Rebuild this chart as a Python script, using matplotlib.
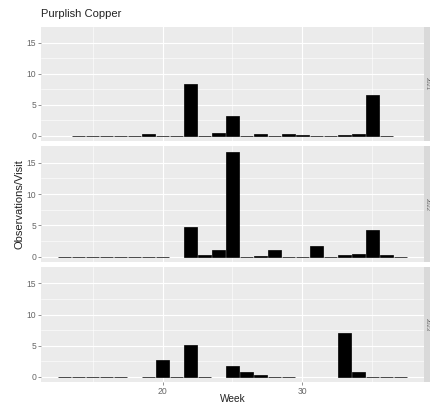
import matplotlib
matplotlib.use("Agg")
import matplotlib.pyplot as plt
from matplotlib.patches import Rectangle

plt.rcParams['font.family'] = ['Liberation Sans', 'DejaVu Sans']

title = "Purplish Copper"
x_label = "Week"
y_label = "Observations/Visit"
strip_labels = ["2021", "2022", "2023"]

weeks_1 = [14, 15, 16, 17, 18, 19, 20, 21, 22, 23, 24, 25, 26, 27, 28, 29, 30, 31, 32, 33, 34, 35, 36]
vals_1 = [0, 0, 0, 0, 0, 0.35, 0, 0, 8.3, 0, 0.55, 3.2, 0, 0.3, 0, 0.4, 0.1, 0, 0, 0.2, 0.3, 6.6, 0]

weeks_2 = [13, 14, 15, 16, 17, 18, 19, 20, 22, 23, 24, 25, 26, 27, 28, 29, 30, 31, 32, 33, 34, 35, 36, 37]
vals_2 = [0, 0, 0, 0, 0, 0, 0, 0, 4.8, 0.2, 1.05, 16.75, 0, 0.05, 1.05, 0, 0, 1.75, 0, 0.25, 0.45, 4.25, 0.3, 0]

weeks_3 = [13, 14, 15, 16, 17, 19, 20, 21, 22, 23, 25, 26, 27, 28, 29, 33, 34, 35, 36, 37]
vals_3 = [0, 0, 0, 0, 0, 0, 2.7, 0, 5.1, 0, 1.7, 0.8, 0.35, 0, 0, 7.0, 0.75, 0, 0, 0]

panels = [(weeks_1, vals_1), (weeks_2, vals_2), (weeks_3, vals_3)]

W, H = 430, 405
fig = plt.figure(figsize=(W / 100, H / 100), dpi=100)

left_px, right_px = 41, 424
tops = [26.6, 146.4, 267.3]
bottoms = [141.2, 262.0, 382.0]

ymax_data = 16.75
ylim = (-0.05 * ymax_data, ymax_data * 1.05)
xlim = (12.55 - 0.05 * 24.9, 37.45 + 0.05 * 24.9)

for i, (wk, vals) in enumerate(panels):
    ax = fig.add_axes([left_px / W, 1 - bottoms[i] / H, (right_px - left_px) / W,
                       (bottoms[i] - tops[i]) / H])
    ax.set_facecolor('#EBEBEB')
    for s in ax.spines.values():
        s.set_visible(False)
    ax.set_xlim(*xlim)
    ax.set_ylim(*ylim)
    ax.set_yticks([0, 5, 10, 15])
    ax.set_yticks([2.5, 7.5, 12.5], minor=True)
    ax.set_xticks([20, 30])
    ax.set_xticks([15, 25, 35], minor=True)
    ax.grid(True, which='major', color='white', linewidth=0.8)
    ax.grid(True, which='minor', color='white', linewidth=0.4)
    ax.set_axisbelow(True)
    ax.tick_params(which='major', length=2, width=0.5, color='#666666',
                   labelsize=6.2, labelcolor='#666666', pad=1.5)
    ax.tick_params(which='minor', length=0)
    if i < 2:
        ax.tick_params(axis='x', labelbottom=False, length=0)
    ax.bar(wk, vals, width=0.9, color='black', edgecolor='black', linewidth=0.5)

    # facet strip on right (cut off by figure edge)
    y0 = 1 - bottoms[i] / H
    hgt = (bottoms[i] - tops[i]) / H
    fig.patches.append(Rectangle((right_px / W, y0), 17 / W, hgt, transform=fig.transFigure,
                                 facecolor='#D9D9D9', edgecolor='none'))
    fig.text(427.2 / W, y0 + hgt / 2, strip_labels[i], rotation=-90, ha='center', va='center',
             fontsize=4.2, color='#666666')

fig.text(41 / W, 1 - 14 / H, title, ha='left', va='center', fontsize=8, color='#222222')
fig.text((left_px + right_px) / 2 / W, 1 - 399 / H, x_label, ha='center', va='center',
         fontsize=7.3, color='#222222')
fig.text(20 / W, 1 - 204 / H, y_label, rotation=90, ha='center', va='center',
         fontsize=8, color='#222222')

fig.savefig('out.png', dpi=100)
